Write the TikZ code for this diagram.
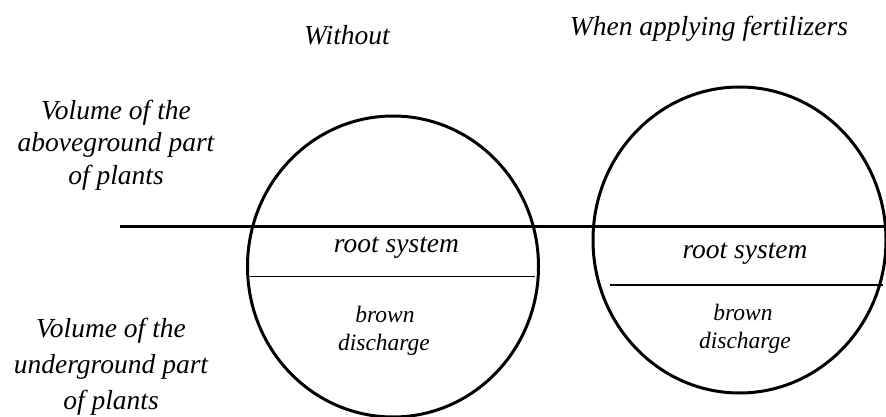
\documentclass[tikz,border=0pt]{standalone}
\usepackage{fontspec}
\setmainfont{Liberation Serif}[ItalicFont={Liberation Serif Italic}]
\newfontfamily\timesit{Liberation Serif Italic}
\begin{document}
\begin{tikzpicture}[x=1pt,y=-1pt,
  lbl/.style={font=\fontsize{27.5}{33}\selectfont\timesit, inner sep=0pt, anchor=base},
  smalllbl/.style={font=\fontsize{23.5}{28}\selectfont\timesit, inner sep=0pt, anchor=base},
  heavy/.style={line width=3pt},
  fineline/.style={line width=1.3pt}]
\useasboundingbox (0,0) rectangle (886,417);
% circles
\coordinate (cL) at (393,266.5);
\coordinate (cR) at (739.5,240);
\draw[heavy] (cL) ellipse [x radius=145.5, y radius=150.5];
\draw[heavy] (cR) ellipse [x radius=146.5, y radius=153];
% ground line
\coordinate (g1) at (120,226);
\coordinate (g2) at (886,226);
\draw[heavy] (g1) -- (g2);
% inner lines
\coordinate (l1) at (250,276.7);
\coordinate (l2) at (535,276.7);
\draw[fineline] (l1) -- (l2);
\coordinate (r1) at (610,285);
\coordinate (r2) at (883,285);
\draw[fineline] (r1) -- (r2);
% titles
\node[lbl] (t1) at (347,45) {Without};
\node[lbl] (t2) at (709,36) {When applying fertilizers};
% left labels
\node[lbl] (a1) at (116,120) {Volume of the};
\node[lbl] (a2) at (116,152) {aboveground part};
\node[lbl] (a3) at (116,184) {of plants};
\node[lbl] (b1) at (111,337) {Volume of the};
\node[lbl] (b2) at (111,373) {underground part};
\node[lbl] (b3) at (111,409) {of plants};
% inside texts
\node[lbl] (rsL) at (396.5,252) {root system};
\node[lbl] (rsR) at (745,258) {root system};
\node[smalllbl] (bL1) at (385,322) {brown};
\node[smalllbl] (bL2) at (384,350) {discharge};
\node[smalllbl] (bR1) at (743,320) {brown};
\node[smalllbl] (bR2) at (745,348) {discharge};
\end{tikzpicture}
\end{document}
